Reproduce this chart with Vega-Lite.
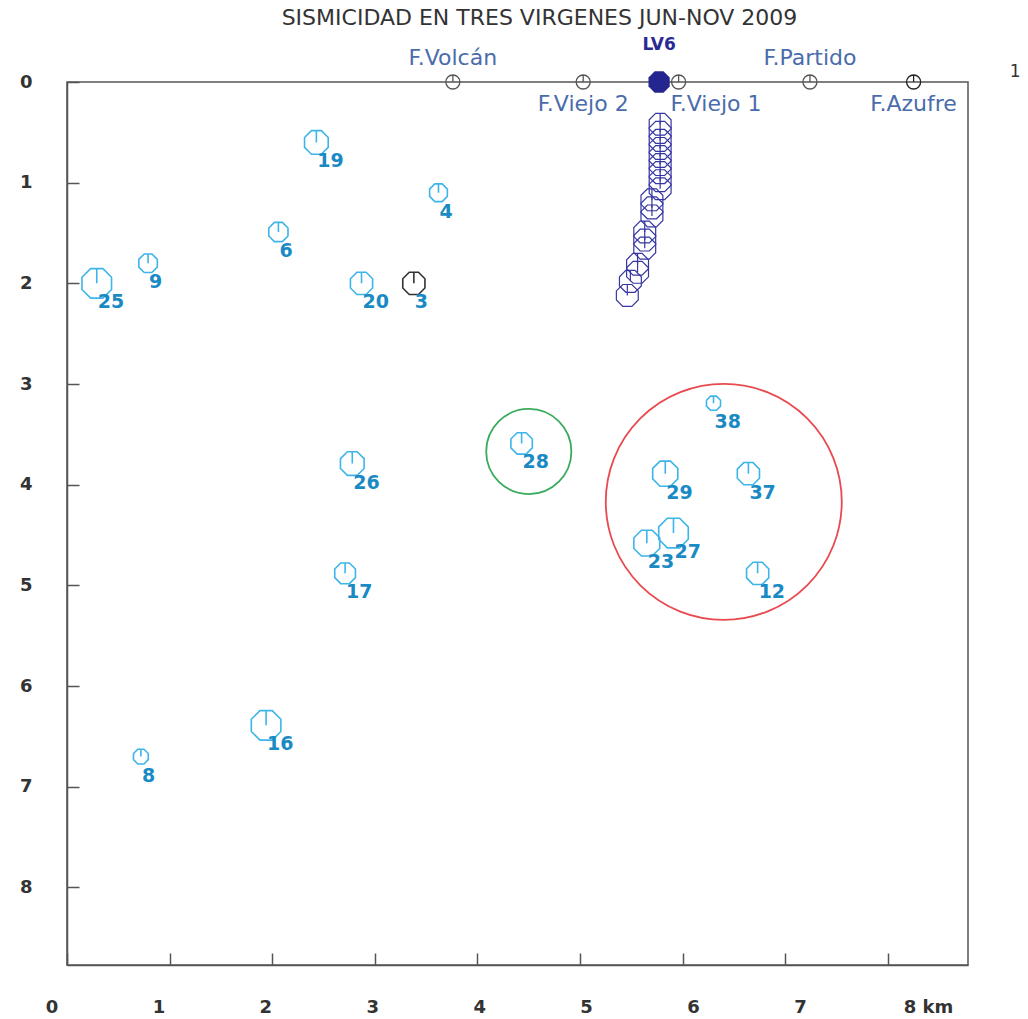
{
  "$schema": "https://vega.github.io/schema/vega-lite/v6.json",
  "width": 901,
  "height": 883,
  "autosize": {"type": "none"},
  "padding": {"left": 67, "top": 82, "right": 60, "bottom": 54},
  "background": "white",
  "title": {"text": "SISMICIDAD EN TRES VIRGENES JUN-NOV 2009", "font": "DejaVu Sans", "fontSize": 22, "fontWeight": "normal", "color": "#333333", "anchor": "middle", "offset": 6, "dx": 22},
  "config": {
    "view": {"stroke": "#555555", "strokeWidth": 1.5},
    "axis": {"domainColor": "#555555", "domainWidth": 1.5, "tickColor": "#555555", "tickWidth": 1.5, "grid": false, "title": null, "labelFont": "DejaVu Sans", "labelFontWeight": "bold", "labelFontSize": 18, "labelColor": "#333333", "labelOverlap": false, "labelFlush": false}
  },
  "datasets": {
    "eventos": [
      {"id": 19, "km": 2.43, "prof": 0.60, "mag": 1.6},
      {"id": 4, "km": 3.62, "prof": 1.10, "mag": 1.2},
      {"id": 6, "km": 2.06, "prof": 1.49, "mag": 1.3},
      {"id": 9, "km": 0.79, "prof": 1.80, "mag": 1.25},
      {"id": 25, "km": 0.29, "prof": 2.00, "mag": 2.0},
      {"id": 20, "km": 2.87, "prof": 2.00, "mag": 1.5},
      {"id": 3, "km": 3.38, "prof": 2.00, "mag": 1.5},
      {"id": 28, "km": 4.43, "prof": 3.59, "mag": 1.45},
      {"id": 26, "km": 2.78, "prof": 3.79, "mag": 1.6},
      {"id": 38, "km": 6.30, "prof": 3.19, "mag": 0.95},
      {"id": 29, "km": 5.83, "prof": 3.89, "mag": 1.7},
      {"id": 37, "km": 6.64, "prof": 3.89, "mag": 1.5},
      {"id": 27, "km": 5.91, "prof": 4.48, "mag": 2.0},
      {"id": 23, "km": 5.65, "prof": 4.58, "mag": 1.75},
      {"id": 12, "km": 6.73, "prof": 4.88, "mag": 1.5},
      {"id": 17, "km": 2.71, "prof": 4.88, "mag": 1.4},
      {"id": 16, "km": 1.94, "prof": 6.39, "mag": 2.0},
      {"id": 8, "km": 0.72, "prof": 6.70, "mag": 1.0}
    ],
    "enjambre": [
      {"km": 5.78, "prof": 0.42}, {"km": 5.78, "prof": 0.50}, {"km": 5.78, "prof": 0.58},
      {"km": 5.78, "prof": 0.66}, {"km": 5.78, "prof": 0.74}, {"km": 5.78, "prof": 0.82},
      {"km": 5.78, "prof": 0.90}, {"km": 5.78, "prof": 0.98}, {"km": 5.78, "prof": 1.06},
      {"km": 5.70, "prof": 1.17}, {"km": 5.70, "prof": 1.25}, {"km": 5.70, "prof": 1.33},
      {"km": 5.63, "prof": 1.49}, {"km": 5.63, "prof": 1.57}, {"km": 5.63, "prof": 1.65},
      {"km": 5.56, "prof": 1.81}, {"km": 5.56, "prof": 1.89}, {"km": 5.49, "prof": 1.98},
      {"km": 5.46, "prof": 2.12}
    ],
    "estaciones": [
      {"nombre": "F.Volcán", "km": 3.76, "prof": 0},
      {"nombre": "F.Viejo 2", "km": 5.03, "prof": 0},
      {"nombre": "LV6", "km": 5.77, "prof": 0},
      {"nombre": "F.Viejo 1", "km": 5.96, "prof": 0},
      {"nombre": "F.Partido", "km": 7.24, "prof": 0},
      {"nombre": "F.Azufre", "km": 8.25, "prof": 0}
    ],
    "zonas": [
      {"zona": "zona 1", "km": 4.50, "prof": 3.67, "radio_km": 0.415},
      {"zona": "zona 2", "km": 6.40, "prof": 4.17, "radio_km": 1.15}
    ],
    "nota": [
      {"texto": "1", "km": 9.24, "prof": -0.1}
    ]
  },
  "encoding": {
    "x": {"field": "km", "type": "quantitative",
      "scale": {"domain": [0, 8.78], "nice": false, "zero": false},
      "axis": {"orient": "bottom", "values": [0, 1, 2, 3, 4, 5, 6, 7, 8], "tickSize": -12, "labelPadding": 45,
        "labelExpr": "datum.value == 8 ? '8 km' : datum.label",
        "labelOffset": {"expr": "datum.value == 8 ? 40 : (datum.value - 3.6) * 4.3"}}},
    "y": {"field": "prof", "type": "quantitative",
      "scale": {"domain": [0, 8.77], "nice": false, "zero": false, "reverse": true},
      "axis": {"orient": "left", "values": [0, 1, 2, 3, 4, 5, 6, 7, 8], "tickSize": -12, "labelPadding": 47}}
  },
  "resolve": {"scale": {"size": "independent"}},
  "layer": [
    {
      "data": {"name": "zonas"},
      "mark": {"type": "point", "shape": "circle", "filled": false, "strokeWidth": 1.8, "opacity": 1},
      "encoding": {
        "size": {"field": "radio_km", "type": "quantitative", "scale": {"type": "pow", "exponent": 2, "domain": [0, 1.15], "range": [0, 55696]}, "legend": null},
        "stroke": {"condition": {"test": "datum.zona == 'zona 1'", "value": "#3aab5c"}, "value": "#e84a4f"}
      }
    },
    {
      "data": {"name": "eventos"},
      "mark": {"type": "point", "shape": "M-0.383,-0.924L0.383,-0.924L0.924,-0.383L0.924,0.383L0.383,0.924L-0.383,0.924L-0.924,0.383L-0.924,-0.383ZM0,-0.924L0,0", "filled": false, "strokeWidth": 1.6, "opacity": 1},
      "encoding": {
        "size": {"field": "mag", "type": "quantitative", "scale": {"type": "pow", "exponent": 2, "domain": [0, 2], "range": [0, 1024]}, "legend": null},
        "stroke": {"condition": {"test": "datum.id == 3", "value": "#333333"}, "value": "#3db5ea"}
      }
    },
    {
      "data": {"name": "eventos"},
      "mark": {"type": "text", "align": "left", "baseline": "middle", "dx": 1, "dy": 19, "font": "DejaVu Sans", "fontWeight": "bold", "fontSize": 19, "fill": "#1a8ac4"},
      "encoding": {"text": {"field": "id", "type": "nominal"}}
    },
    {
      "data": {"name": "enjambre"},
      "mark": {"type": "point", "shape": "M-0.383,-0.924L0.383,-0.924L0.924,-0.383L0.924,0.383L0.383,0.924L-0.383,0.924L-0.924,0.383L-0.924,-0.383ZM0,-0.924L0,0", "filled": false, "strokeWidth": 1.2, "stroke": "#3636a3", "size": 560, "opacity": 1}
    },
    {
      "data": {"name": "estaciones"},
      "transform": [{"filter": "datum.nombre == 'LV6'"}],
      "mark": {"type": "point", "shape": "M-0.383,-0.924L0.383,-0.924L0.924,-0.383L0.924,0.383L0.383,0.924L-0.383,0.924L-0.924,0.383L-0.924,-0.383Z", "filled": true, "fill": "#25258f", "size": 529, "opacity": 1, "strokeWidth": 0}
    },
    {
      "data": {"name": "estaciones"},
      "transform": [{"filter": "datum.nombre != 'LV6'"}],
      "mark": {"type": "point", "shape": "M1,0C1,0.552,0.552,1,0,1C-0.552,1,-1,0.552,-1,0C-1,-0.552,-0.552,-1,0,-1C0.552,-1,1,-0.552,1,0ZM0,-1L0,0", "filled": false, "strokeWidth": 1.3, "size": 196, "opacity": 1},
      "encoding": {
        "stroke": {"condition": {"test": "datum.nombre == 'F.Azufre'", "value": "#222222"}, "value": "#555555"}
      }
    },
    {
      "data": {"name": "estaciones"},
      "transform": [{"filter": "datum.nombre == 'F.Volcán' || datum.nombre == 'F.Partido'"}],
      "mark": {"type": "text", "align": "center", "baseline": "middle", "dy": -24, "font": "DejaVu Sans", "fontSize": 22, "fill": "#4a6cab"},
      "encoding": {"text": {"field": "nombre", "type": "nominal"}}
    },
    {
      "data": {"name": "estaciones"},
      "transform": [{"filter": "datum.nombre == 'F.Viejo 2' || datum.nombre == 'F.Azufre'"}],
      "mark": {"type": "text", "align": "center", "baseline": "middle", "dy": 22, "font": "DejaVu Sans", "fontSize": 22, "fill": "#4a6cab"},
      "encoding": {"text": {"field": "nombre", "type": "nominal"}}
    },
    {
      "data": {"name": "estaciones"},
      "transform": [{"filter": "datum.nombre == 'F.Viejo 1'"}],
      "mark": {"type": "text", "align": "left", "baseline": "middle", "dx": -8, "dy": 22, "font": "DejaVu Sans", "fontSize": 22, "fill": "#4a6cab"},
      "encoding": {"text": {"field": "nombre", "type": "nominal"}}
    },
    {
      "data": {"name": "estaciones"},
      "transform": [{"filter": "datum.nombre == 'LV6'"}],
      "mark": {"type": "text", "align": "center", "baseline": "middle", "dy": -37, "font": "DejaVu Sans", "fontWeight": "bold", "fontSize": 17, "fill": "#2a2a95"},
      "encoding": {"text": {"field": "nombre", "type": "nominal"}}
    },
    {
      "data": {"name": "nota"},
      "mark": {"type": "text", "align": "center", "baseline": "middle", "font": "DejaVu Sans", "fontSize": 17, "fill": "#333333"},
      "encoding": {"text": {"field": "texto", "type": "nominal"}}
    }
  ]
}
